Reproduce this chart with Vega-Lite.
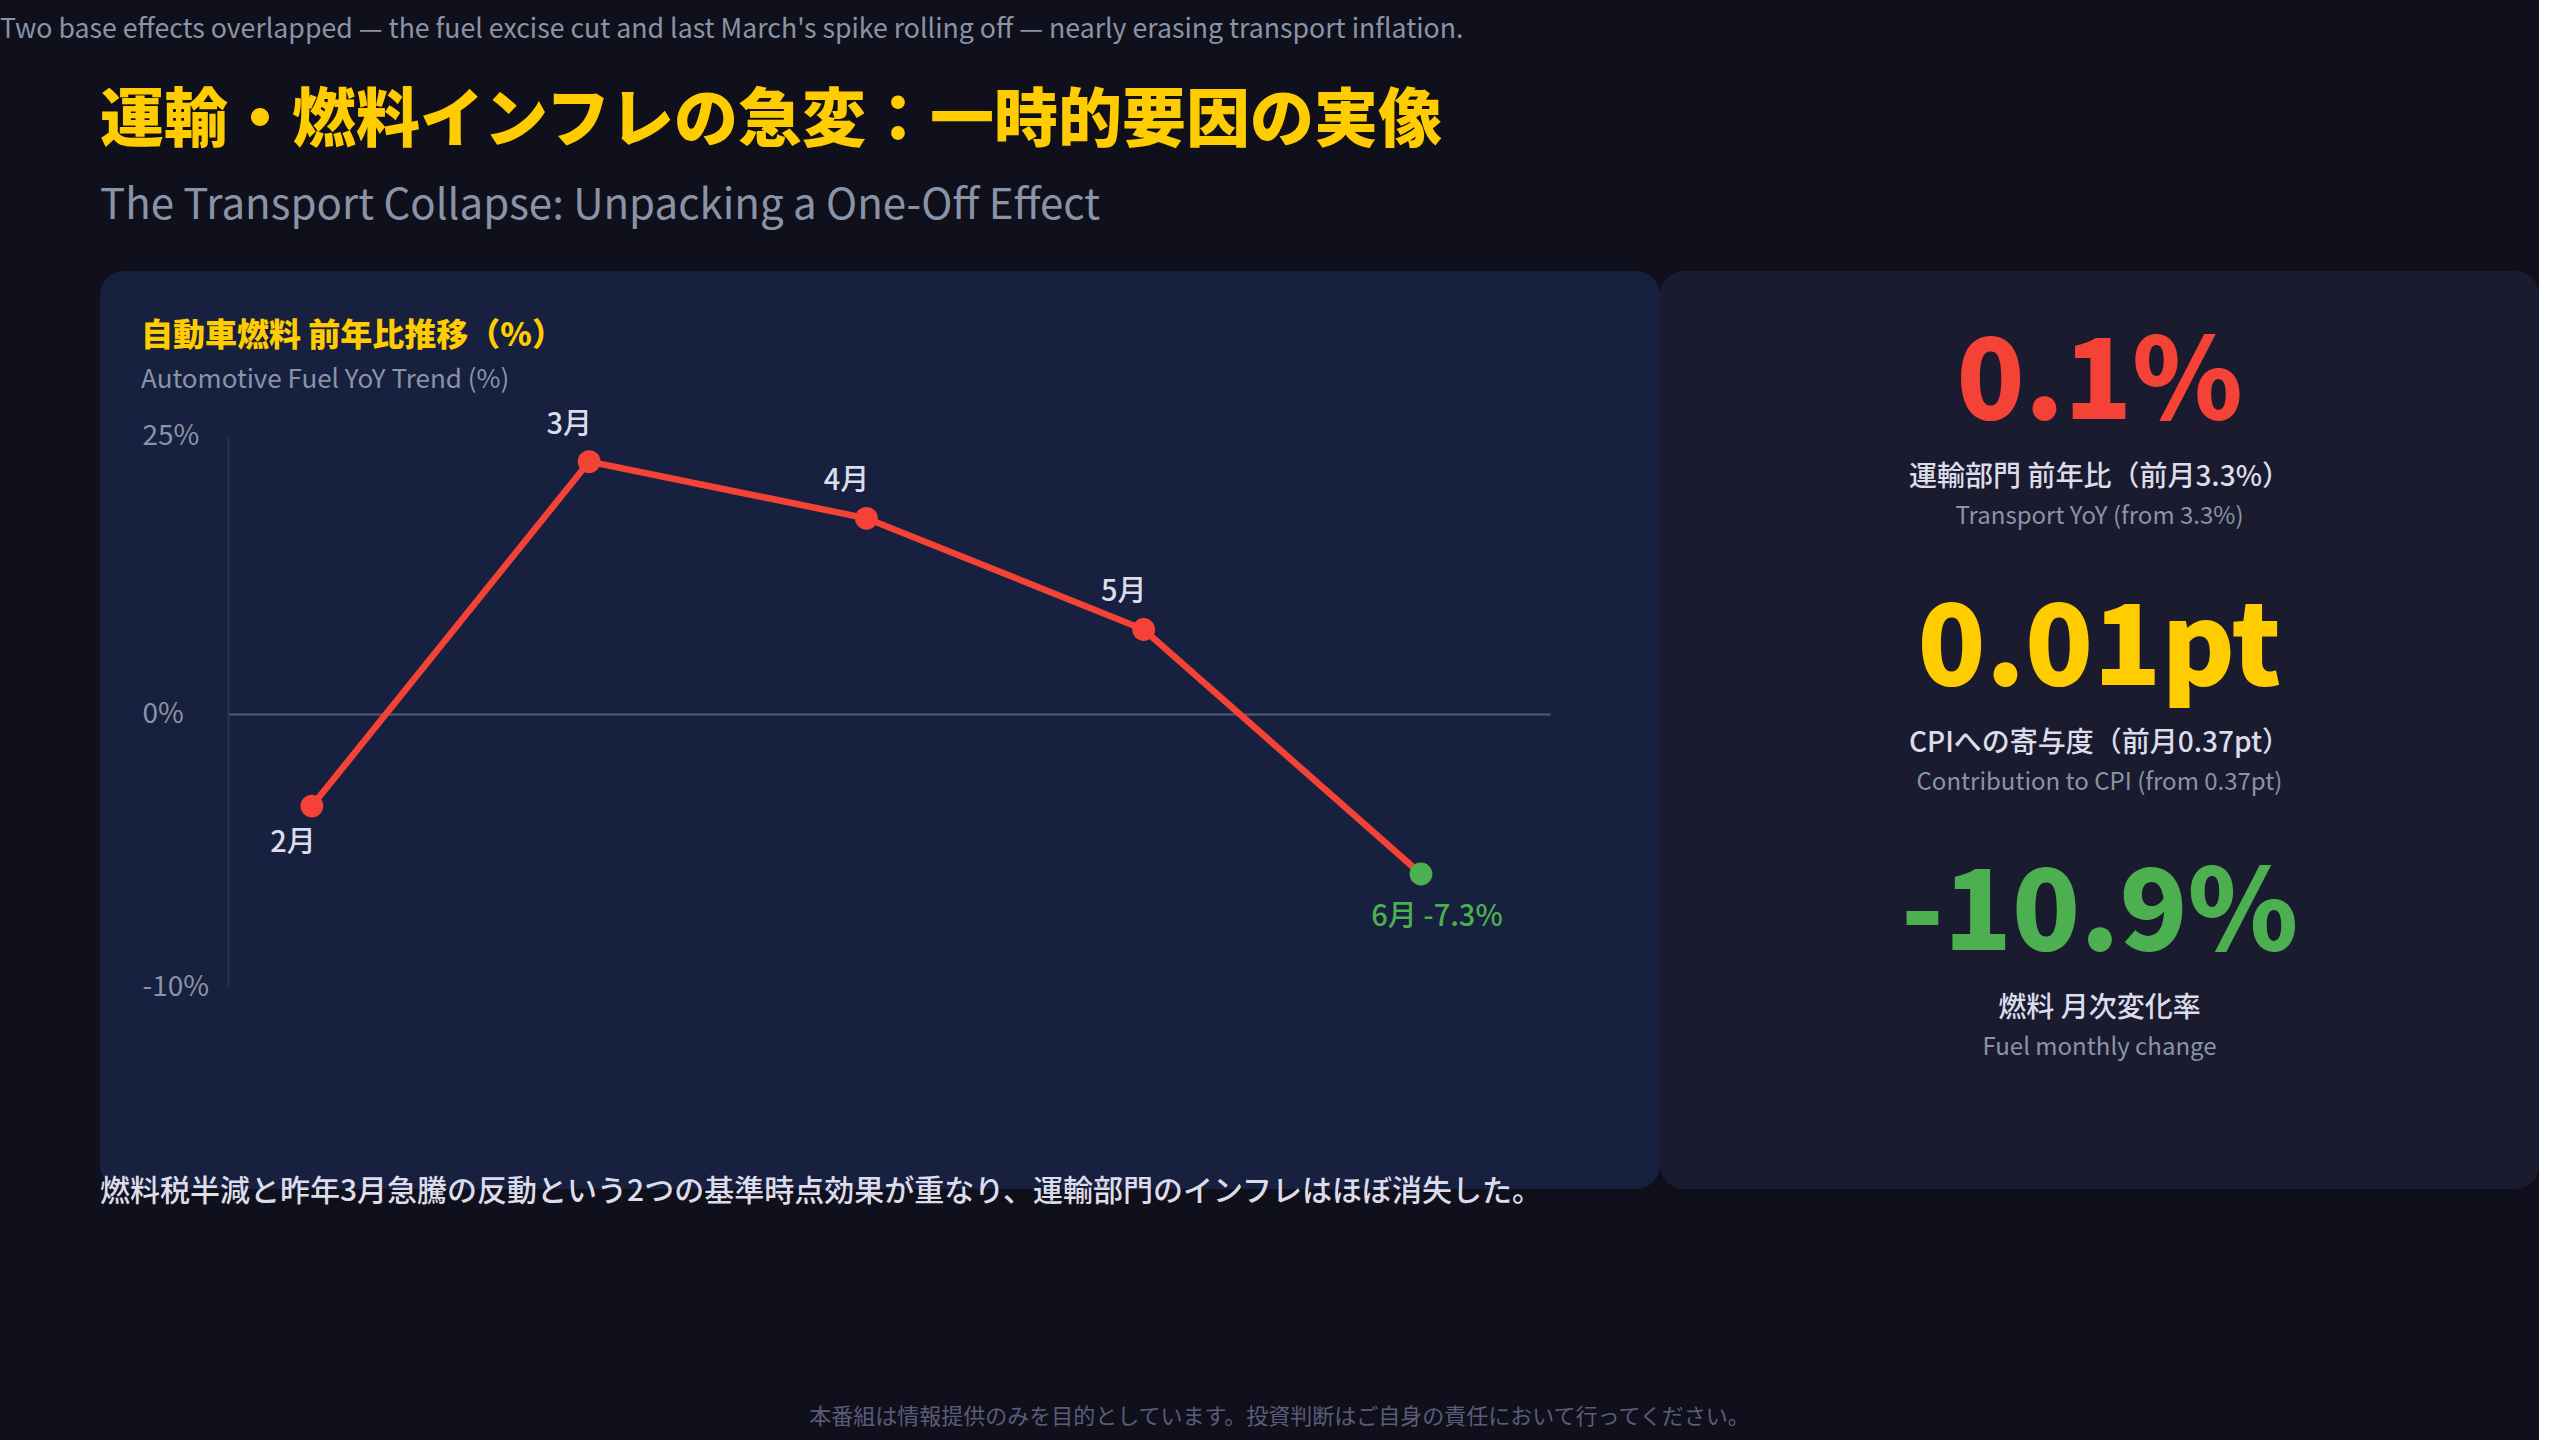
{
  "$schema": "https://vega.github.io/schema/vega-lite/v6.json",
  "background": "#10101c",
  "padding": {"left": 0, "top": 17, "right": 0, "bottom": 20},
  "datasets": {
    "fuel": [
      {"month": "2月", "yoy": -4.2},
      {"month": "3月", "yoy": 22.7},
      {"month": "4月", "yoy": 17.6},
      {"month": "5月", "yoy": 7.6},
      {"month": "6月", "yoy": -7.3}
    ],
    "kpi": [
      {"kpi": "transport", "value": "0.1%", "jp": "運輸部門 前年比（前月3.3%）", "en": "Transport YoY (from 3.3%)"},
      {"kpi": "contribution", "value": "0.01pt", "jp": "CPIへの寄与度（前月0.37pt）", "en": "Contribution to CPI (from 0.37pt)"},
      {"kpi": "fuel", "value": "-10.9%", "jp": "燃料 月次変化率", "en": "Fuel monthly change"}
    ]
  },
  "title": {
    "text": "本番組は情報提供のみを目的としています。投資判断はご自身の責任において行ってください。",
    "orient": "bottom",
    "anchor": "middle",
    "frame": "bounds",
    "offset": 200,
    "dx": 10,
    "fontSize": 22,
    "fontWeight": 400,
    "color": "#5c5c7a"
  },
  "vconcat": [
    {
      "title": {
        "text": "Two base effects overlapped — the fuel excise cut and last March's spike rolling off — nearly erasing transport inflation.",
        "orient": "top",
        "anchor": "start",
        "frame": "group",
        "dx": -100,
        "offset": 46,
        "fontSize": 26.7,
        "fontWeight": 400,
        "color": "#8a94a6"
      },
      "vconcat": [
        {
          "title": {
            "text": "運輸・燃料インフレの急変：一時的要因の実像",
            "subtitle": "The Transport Collapse: Unpacking a One-Off Effect",
            "anchor": "start",
            "frame": "group",
            "offset": 44,
            "fontSize": 64,
            "fontWeight": 900,
            "color": "#ffcc00",
            "subtitleFontSize": 42,
            "subtitleFontWeight": 400,
            "subtitleColor": "#8a94a6",
            "subtitlePadding": 32
          },
          "vconcat": [
            {
              "title": {
                "text": "燃料税半減と昨年3月急騰の反動という2つの基準時点効果が重なり、運輸部門のインフレはほぼ消失した。",
                "orient": "bottom",
                "anchor": "start",
                "frame": "group",
                "offset": -12,
                "fontSize": 30,
                "fontWeight": 500,
                "color": "#dcdcea"
              },
              "spacing": 0,
              "hconcat": [
                {
                  "width": 1560,
                  "height": 918,
                  "view": {"fill": "#17203e", "stroke": null, "cornerRadius": 24},
                  "title": {
                    "text": "自動車燃料 前年比推移（%）",
                    "subtitle": "Automotive Fuel YoY Trend (%)",
                    "anchor": "start",
                    "frame": "group",
                    "orient": "top",
                    "offset": -123,
                    "dx": 41,
                    "fontSize": 32,
                    "fontWeight": 900,
                    "color": "#ffcc00",
                    "subtitleFontSize": 26,
                    "subtitleFontWeight": 400,
                    "subtitleColor": "#8a94a6",
                    "subtitlePadding": 14
                  },
                  "data": {"name": "fuel"},
                  "encoding": {
                    "x": {
                      "field": "month",
                      "type": "ordinal",
                      "scale": {
                        "type": "point",
                        "domain": ["2月", "3月", "4月", "5月", "6月"],
                        "range": [128, 1450],
                        "padding": 0.384,
                        "align": 0.394
                      },
                      "axis": {
                        "orient": "bottom",
                        "offset": -475,
                        "labels": false,
                        "ticks": false,
                        "grid": false,
                        "title": null,
                        "domainColor": "#525a78",
                        "domainWidth": 2
                      }
                    },
                    "y": {
                      "field": "yoy",
                      "type": "quantitative",
                      "scale": {
                        "type": "linear",
                        "domain": [-10, -7.3, 0, 25],
                        "range": [716, 603, 443, 165],
                        "nice": false,
                        "zero": false
                      },
                      "axis": {
                        "orient": "left",
                        "offset": -128,
                        "values": [25, 0, -10],
                        "labelExpr": "datum.value + '%'",
                        "labelAlign": "left",
                        "labelBaseline": "middle",
                        "labelPadding": 86,
                        "labelFontSize": 28,
                        "labelColor": "#8a94a6",
                        "ticks": false,
                        "tickSize": 0,
                        "grid": false,
                        "title": null,
                        "domainColor": "#2e3756",
                        "domainWidth": 1.5
                      }
                    }
                  },
                  "layer": [
                    {"mark": {"type": "line", "color": "#f44336", "strokeWidth": 6.5}},
                    {
                      "mark": {"type": "point", "filled": true, "size": 520, "opacity": 1},
                      "encoding": {
                        "color": {"condition": {"test": "datum.month === '6月'", "value": "#4caf50"}, "value": "#f44336"}
                      }
                    },
                    {
                      "transform": [{"filter": "datum.yoy > 0"}],
                      "mark": {"type": "text", "fontSize": 29, "fontWeight": 500, "color": "#dcdcea", "dx": -20, "dy": -37, "baseline": "middle"},
                      "encoding": {"text": {"field": "month"}}
                    },
                    {
                      "transform": [{"filter": "datum.month === '2月'"}],
                      "mark": {"type": "text", "fontSize": 29, "fontWeight": 500, "color": "#dcdcea", "dx": -19, "dy": 37, "baseline": "middle"},
                      "encoding": {"text": {"field": "month"}}
                    },
                    {
                      "transform": [
                        {"filter": "datum.month === '6月'"},
                        {"calculate": "datum.month + ' ' + datum.yoy + '%'", "as": "label"}
                      ],
                      "mark": {"type": "text", "fontSize": 29, "fontWeight": 500, "color": "#4caf50", "dx": 16, "dy": 43, "baseline": "middle"},
                      "encoding": {"text": {"field": "label"}}
                    }
                  ]
                },
                {
                  "width": 879,
                  "height": 918,
                  "view": {"fill": "#1a1b2e", "stroke": null, "cornerRadius": 24},
                  "data": {"name": "kpi"},
                  "encoding": {
                    "y": {
                      "field": "kpi",
                      "type": "nominal",
                      "scale": {"type": "point", "domain": ["transport", "contribution", "fuel"], "range": [106, 637], "padding": 0},
                      "axis": null
                    }
                  },
                  "layer": [
                    {
                      "mark": {"type": "text", "fontSize": 112, "fontWeight": 900, "baseline": "middle", "align": "center", "dy": 8},
                      "encoding": {
                        "text": {"field": "value"},
                        "color": {
                          "field": "kpi",
                          "type": "nominal",
                          "scale": {"domain": ["transport", "contribution", "fuel"], "range": ["#f44336", "#ffcc00", "#4caf50"]},
                          "legend": null
                        }
                      }
                    },
                    {
                      "mark": {"type": "text", "fontSize": 28, "fontWeight": 500, "color": "#dcdcea", "dy": 101, "baseline": "middle", "align": "center"},
                      "encoding": {"text": {"field": "jp"}}
                    },
                    {
                      "mark": {"type": "text", "fontSize": 24, "fontWeight": 400, "color": "#8a94a6", "dy": 140, "baseline": "middle", "align": "center"},
                      "encoding": {"text": {"field": "en"}}
                    }
                  ]
                }
              ]
            }
          ]
        }
      ]
    }
  ],
  "config": {
    "font": "Noto Sans CJK JP",
    "view": {"stroke": null},
    "concat": {"spacing": 0}
  }
}
